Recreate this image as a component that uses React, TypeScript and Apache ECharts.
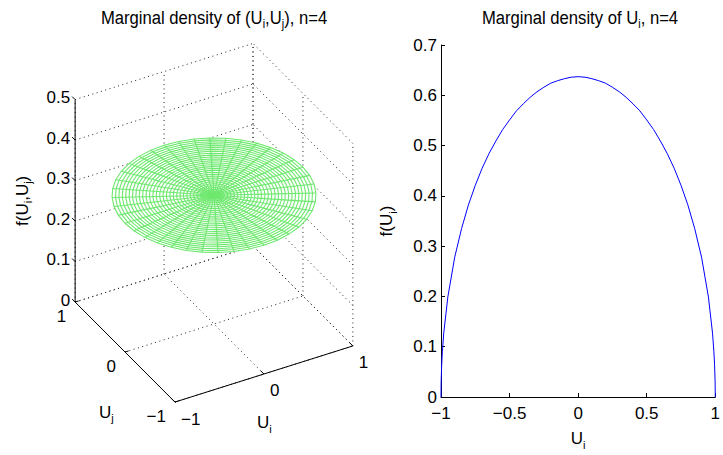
import React, { useEffect, useRef } from 'react';
import * as echarts from 'echarts';

const FONT = "'Liberation Sans', Arial, Helvetica, sans-serif";

// ---------- Right panel: marginal density of U_i
const uValues = [
  -1, -0.999, -0.995, -0.99, -0.98, -0.95, -0.9, -0.85, -0.8, -0.75, -0.7, -0.65, -0.6, -0.55, -0.5,
  -0.45, -0.4, -0.35, -0.3, -0.25, -0.2, -0.15, -0.1, -0.05, 0, 0.05, 0.1, 0.15, 0.2, 0.25, 0.3, 0.35,
  0.4, 0.45, 0.5, 0.55, 0.6, 0.65, 0.7, 0.75, 0.8, 0.85, 0.9, 0.95, 0.98, 0.99, 0.995, 0.999, 1,
];
const fValues = [
  0, 0.028, 0.064, 0.09, 0.127, 0.199, 0.278, 0.335, 0.382, 0.421, 0.455, 0.484, 0.509, 0.532, 0.551,
  0.569, 0.583, 0.596, 0.607, 0.616, 0.624, 0.629, 0.633, 0.636, 0.637, 0.636, 0.633, 0.629, 0.624, 0.616,
  0.607, 0.596, 0.583, 0.569, 0.551, 0.532, 0.509, 0.484, 0.455, 0.421, 0.382, 0.335, 0.278, 0.199, 0.127,
  0.09, 0.064, 0.028, 0,
];
const xTickValues = [-1, -0.5, 0, 0.5, 1];
const xTickLabels = ['−1', '−0.5', '0', '0.5', '1'];
const yTickValues = [0, 0.1, 0.2, 0.3, 0.4, 0.5, 0.6, 0.7];
const yTickLabels = ['0', '0.1', '0.2', '0.3', '0.4', '0.5', '0.6', '0.7'];

// ---------- Left panel: joint density of (U_i, U_j), flat disk
const zTickValues = [0, 0.1, 0.2, 0.3, 0.4, 0.5];
const zTickLabels = ['0', '0.1', '0.2', '0.3', '0.4', '0.5'];
const uTickValues = [-1, 0, 1];
const uTickLabels = ['−1', '0', '1'];
const vTickValues = [-1, 0, 1];
const vTickLabels = ['−1', '0', '1'];
const diskDensity = 0.318;
const diskRadius = 1;
const meshRingCount = 30;
const meshSpokeCount = 40;

// view of the 3-D box
const AZ = (-29.3 * Math.PI) / 180;
const EL = (34.2 * Math.PI) / 180;
const Z_ASPECT = 4.8;
function project(u: number, v: number, z: number): number[] {
  const px = Math.cos(AZ) * u + Math.sin(AZ) * v;
  const py = Math.sin(EL) * (-Math.sin(AZ) * u + Math.cos(AZ) * v) + Math.cos(EL) * Z_ASPECT * z;
  return [px, py];
}

const FS = 17;
const SUB = 11;
const richZ = (size: number, sub: number, pad: number) => ({
  n: { fontSize: size, fontFamily: FONT, fill: '#000' },
  s: { fontSize: sub, fontFamily: FONT, fill: '#000', padding: [pad, 0, 0, 0] },
});
const richO = (size: number, sub: number, pad: number) => ({
  n: { fontSize: size, fontFamily: FONT, color: '#000' },
  s: { fontSize: sub, fontFamily: FONT, color: '#000', padding: [pad, 0, 0, 0] },
});

export default function App() {
  const ref = useRef<HTMLDivElement>(null);
  useEffect(() => {
    document.body.style.margin = '0';
    if (!ref.current) return;
    const chart = echarts.init(ref.current, undefined, { renderer: 'svg' });

    const uMin = uTickValues[0];
    const uMax = uTickValues[uTickValues.length - 1];
    const vMin = vTickValues[0];
    const vMax = vTickValues[vTickValues.length - 1];
    const zMax = zTickValues[zTickValues.length - 1];

    const gridSegs: number[][][] = [];
    uTickValues.forEach((u) => gridSegs.push([[u, vMin, 0], [u, vMax, 0]]));
    vTickValues.forEach((v) => gridSegs.push([[uMin, v, 0], [uMax, v, 0]]));
    uTickValues.forEach((u) => gridSegs.push([[u, vMax, 0], [u, vMax, zMax]]));
    zTickValues.forEach((z) => gridSegs.push([[uMin, vMax, z], [uMax, vMax, z]]));
    vTickValues.forEach((v) => gridSegs.push([[uMax, v, 0], [uMax, v, zMax]]));
    zTickValues.forEach((z) => gridSegs.push([[uMax, vMin, z], [uMax, vMax, z]]));

    const axisSegs: number[][][] = [
      [[uMin, vMin, 0], [uMax, vMin, 0]],
      [[uMin, vMin, 0], [uMin, vMax, 0]],
      [[uMin, vMax, 0], [uMin, vMax, zMax]],
    ];
    uTickValues.forEach((u) => axisSegs.push([[u, vMin, 0], [u, vMin + 0.06, 0]]));
    vTickValues.forEach((v) => axisSegs.push([[uMin, v, 0], [uMin + 0.04, v, 0]]));
    zTickValues.forEach((z) => axisSegs.push([[uMin, vMax, z], [uMin, vMax + 0.06, z]]));

    const angles: number[] = [];
    for (let k = 0; k <= meshSpokeCount; k++) angles.push((2 * Math.PI * k) / meshSpokeCount);
    const meshSegs: number[][][] = [];
    for (let i = 1; i <= meshRingCount; i++) {
      const r = (diskRadius * i) / meshRingCount;
      meshSegs.push(angles.map((t) => [r * Math.cos(t), r * Math.sin(t), diskDensity]));
    }
    for (let k = 0; k < meshSpokeCount; k++) {
      const t = angles[k];
      meshSegs.push([[0, 0, diskDensity], [diskRadius * Math.cos(t), diskRadius * Math.sin(t), diskDensity]]);
    }
    const diskOutline = [angles.map((t) => [diskRadius * Math.cos(t), diskRadius * Math.sin(t), diskDensity])];

    const polySeries = (segs: number[][][], style: any, z: number, fill = false) => ({
      type: 'custom',
      xAxisIndex: 1,
      yAxisIndex: 1,
      z,
      silent: true,
      data: segs.map((_, i) => [0, 0, i]),
      renderItem: (params: any, api: any) => {
        const pts = segs[params.dataIndex].map((p) => api.coord(project(p[0], p[1], p[2])));
        return { type: fill ? 'polygon' : 'polyline', shape: { points: pts }, style: { ...style } };
      },
    });

    type Lab = { pos: number[]; text: string; dx: number; dy: number; align: string; va: string; rot?: number };
    const labels: Lab[] = [
      ...zTickValues.map((z, i) => ({ pos: [uMin, vMax, z], text: `{n|${zTickLabels[i]}}`, dx: -5, dy: -2, align: 'right', va: 'middle' })),
      ...uTickValues.map((u, i) => ({ pos: [u, vMin, 0], text: `{n|${uTickLabels[i]}}`, dx: 6, dy: 17, align: 'left', va: 'middle' })),
      ...vTickValues.map((v, i) => ({ pos: [uMin, v, 0], text: `{n|${vTickLabels[i]}}`, dx: -9, dy: 14, align: 'right', va: 'middle' })),
      { pos: [0, vMin, 0], text: '{n|U}{s|i}', dx: -7, dy: 49, align: 'left', va: 'middle' },
      { pos: [uMin, 0, 0], text: '{n|U}{s|j}', dx: -26, dy: 60, align: 'left', va: 'middle' },
      { pos: [uMin, vMax, zMax / 2], text: '{n|f(U}{s|i}{n|,U}{s|j}{n|)}', dx: -53, dy: 0, align: 'center', va: 'middle', rot: Math.PI / 2 },
    ];

    const labelSeries = {
      type: 'custom',
      xAxisIndex: 1,
      yAxisIndex: 1,
      z: 6,
      silent: true,
      data: labels.map((_, i) => [0, 0, i]),
      renderItem: (params: any, api: any) => {
        const L = labels[params.dataIndex];
        const c = api.coord(project(L.pos[0], L.pos[1], L.pos[2]));
        return {
          type: 'text',
          x: c[0] + L.dx,
          y: c[1] + L.dy,
          rotation: L.rot || 0,
          style: {
            text: L.text,
            rich: richZ(FS, SUB, 12),
            fill: '#000',
            align: L.align,
            textAlign: L.align,
            verticalAlign: L.va,
            textVerticalAlign: L.va,
          },
        };
      },
    };

    const titleEl = (x: number, text: string) => ({
      type: 'text',
      x,
      y: 18,
      scaleX: 0.9,
      silent: true,
      style: {
        text,
        rich: richZ(18.5, 12, 12),
        fill: '#000',
        align: 'center',
        textAlign: 'center',
        verticalAlign: 'middle',
        textVerticalAlign: 'middle',
      },
    });

    const option: any = {
      animation: false,
      backgroundColor: '#fff',
      grid: [
        { left: 441, top: 45, width: 278, height: 355, show: false },
        { left: 10, top: 18, width: 408, height: 408, show: false },
      ],
      xAxis: [
        {
          gridIndex: 0,
          type: 'value',
          min: -1,
          max: 1,
          interval: 0.5,
          axisLine: { show: true, onZero: false, lineStyle: { color: '#000', width: 1 } },
          axisTick: { show: true, inside: true, length: 4, lineStyle: { color: '#000' } },
          splitLine: { show: false },
          axisLabel: {
            color: '#000',
            fontSize: FS,
            fontFamily: FONT,
            margin: 8,
            formatter: (v: number) => {
              const i = xTickValues.findIndex((t) => Math.abs(t - v) < 1e-9);
              return i >= 0 ? xTickLabels[i] : '';
            },
          },
          name: '{n|U}{s|i}',
          nameLocation: 'middle',
          nameGap: 30,
          nameTextStyle: { rich: richO(FS, SUB, 12) },
        },
        { gridIndex: 1, type: 'value', min: -2, max: 2, show: false },
      ],
      yAxis: [
        {
          gridIndex: 0,
          type: 'value',
          min: 0,
          max: 0.7,
          interval: 0.1,
          axisLine: { show: true, onZero: false, lineStyle: { color: '#000', width: 1 } },
          axisTick: { show: true, inside: true, length: 4, lineStyle: { color: '#000' } },
          splitLine: { show: false },
          axisLabel: {
            color: '#000',
            fontSize: FS,
            fontFamily: FONT,
            margin: 4,
            formatter: (v: number) => {
              const i = yTickValues.findIndex((t) => Math.abs(t - v) < 1e-9);
              return i >= 0 ? yTickLabels[i] : '';
            },
          },
          name: '{n|f(U}{s|i}{n|)}',
          nameLocation: 'middle',
          nameRotate: 90,
          nameGap: 43,
          nameTextStyle: { rich: richO(FS, SUB, 12) },
        },
        { gridIndex: 1, type: 'value', min: -1, max: 3, show: false },
      ],
      series: [
        {
          type: 'line',
          xAxisIndex: 0,
          yAxisIndex: 0,
          data: uValues.map((u, i) => [u, fValues[i]]),
          showSymbol: false,
          smooth: false,
          lineStyle: { color: '#0000ff', width: 1 },
          clip: false,
        },
        polySeries(gridSegs, { stroke: '#222', lineWidth: 1, lineDash: [1, 3.5], fill: null }, 1),
        polySeries(diskOutline, { fill: '#fff', stroke: null }, 2, true),
        polySeries(meshSegs, { stroke: '#6ee86e', lineWidth: 1.1, fill: null }, 3),
        polySeries(axisSegs, { stroke: '#000', lineWidth: 1, fill: null }, 4),
        labelSeries,
      ],
      graphic: [titleEl(214, '{n|Marginal density of (U}{s|i}{n|,U}{s|j}{n|), n=4}'), titleEl(580, '{n|Marginal density of U}{s|i}{n|, n=4}')],
    };
    chart.setOption(option);
    return () => chart.dispose();
  }, []);
  return <div ref={ref} style={{ width: 723, height: 455 }} />;
}
